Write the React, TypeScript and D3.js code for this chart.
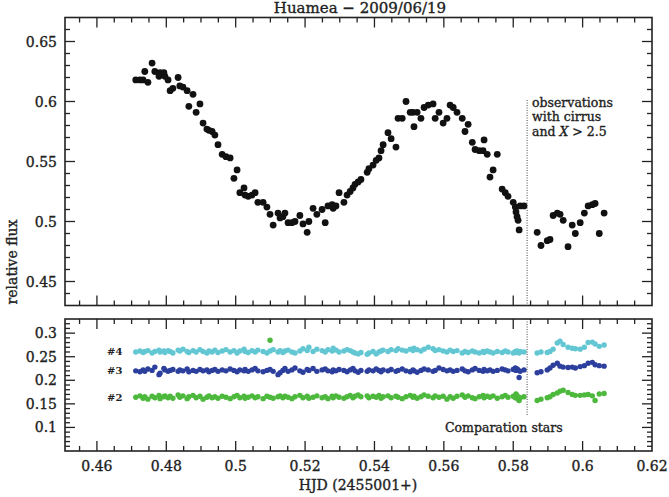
import * as d3 from "d3";
import React from "react";

// Observation times (HJD - 2455001)
const times = [
  0.4712, 0.4724, 0.4733, 0.4738, 0.4747, 0.4759, 0.4767, 0.4779, 0.4782, 0.4793,
  0.4796, 0.4805, 0.4811, 0.4819, 0.4834, 0.4839, 0.4848, 0.486, 0.4865, 0.4877,
  0.4886, 0.4897, 0.4906, 0.4917, 0.4923, 0.4932, 0.494, 0.4949, 0.4961, 0.4972,
  0.4984, 0.4995, 0.5004, 0.5012, 0.5024, 0.5027, 0.5036, 0.5047, 0.5056, 0.5064,
  0.5079, 0.509, 0.5099, 0.5108, 0.5122, 0.5128, 0.5136, 0.5142, 0.5151, 0.5162,
  0.5171, 0.5185, 0.5194, 0.5206, 0.5211, 0.5223, 0.5234, 0.5249, 0.5258, 0.5266,
  0.5278, 0.5281, 0.5289, 0.5298, 0.5312, 0.5321, 0.533, 0.5338, 0.5344, 0.5353,
  0.5361, 0.5379, 0.5384, 0.5396, 0.5405, 0.5413, 0.5419, 0.5425, 0.5439, 0.5448,
  0.5462, 0.5468, 0.548, 0.5491, 0.5503, 0.5511, 0.5514, 0.5523, 0.5534, 0.5543,
  0.5555, 0.5569, 0.5575, 0.5586, 0.5598, 0.5609, 0.5618, 0.5627, 0.5638, 0.5653,
  0.5661, 0.567, 0.5682, 0.569, 0.5702, 0.5713, 0.5716, 0.5725, 0.5733, 0.5742,
  0.5754, 0.5768, 0.5777, 0.5785, 0.58, 0.5806, 0.5808, 0.5811, 0.5814, 0.5817,
  0.582, 0.5831,
  0.5869, 0.588, 0.5898, 0.5906, 0.5915, 0.5927, 0.5935, 0.5944, 0.5958, 0.597,
  0.5979, 0.5993, 0.6005, 0.6016, 0.6028, 0.6036, 0.6048, 0.6062,
];

// Haumea relative flux
const flux = [
  0.618, 0.618, 0.618, 0.625, 0.616, 0.632, 0.625, 0.621, 0.624, 0.624,
  0.621, 0.618, 0.609, 0.611, 0.62, 0.613, 0.612, 0.609, 0.596, 0.606,
  0.591, 0.598, 0.582, 0.577, 0.576, 0.575, 0.572, 0.564, 0.556, 0.554,
  0.553, 0.536, 0.543, 0.524, 0.528, 0.522, 0.521, 0.522, 0.524, 0.516,
  0.516, 0.512, 0.506, 0.497, 0.507, 0.503, 0.504, 0.507, 0.499, 0.499,
  0.5, 0.505, 0.498, 0.491, 0.5, 0.511, 0.506, 0.51, 0.499, 0.513,
  0.514, 0.511, 0.513, 0.524, 0.516, 0.522, 0.525, 0.528, 0.531, 0.533,
  0.535, 0.541, 0.544, 0.547, 0.551, 0.553, 0.559, 0.564, 0.574, 0.569,
  0.562, 0.586, 0.586, 0.6, 0.591, 0.591, 0.579, 0.591, 0.586, 0.595,
  0.597, 0.598, 0.586, 0.591, 0.582, 0.586, 0.597, 0.595, 0.591, 0.586,
  0.575, 0.581, 0.566, 0.56, 0.559, 0.559, 0.568, 0.556, 0.537, 0.543,
  0.556, 0.527, 0.524, 0.521, 0.516, 0.512, 0.508, 0.504, 0.501, 0.493,
  0.513, 0.513,
  0.491, 0.48, 0.484, 0.485, 0.505, 0.507, 0.506, 0.501, 0.479, 0.497,
  0.49, 0.499, 0.507, 0.513, 0.514, 0.515, 0.49, 0.507,
];

// Comparison star #4
const comp4 = [
  0.26, 0.262, 0.259, 0.261, 0.263, 0.258, 0.261, 0.264, 0.26, 0.262, 0.259, 0.263,
  0.261, 0.258, 0.264, 0.262, 0.266, 0.261, 0.259, 0.263, 0.26, 0.265, 0.261, 0.258,
  0.262, 0.26, 0.264, 0.259, 0.262, 0.265, 0.26, 0.263, 0.258, 0.262, 0.266, 0.261,
  0.259, 0.263, 0.26, 0.264, 0.261, 0.258, 0.262, 0.265, 0.26, 0.263, 0.259, 0.262,
  0.264, 0.26, 0.258, 0.262, 0.267, 0.263, 0.27, 0.261, 0.266, 0.263, 0.26, 0.265,
  0.262, 0.268, 0.264, 0.26, 0.262, 0.265, 0.263, 0.26, 0.258, 0.256, 0.259, 0.255,
  0.258, 0.261, 0.256, 0.26, 0.262, 0.264, 0.261, 0.265, 0.263, 0.267, 0.264, 0.262,
  0.266, 0.263, 0.268, 0.265, 0.262, 0.266, 0.27, 0.267, 0.263, 0.265, 0.262, 0.26,
  0.264, 0.261, 0.263, 0.258, 0.261, 0.259, 0.262, 0.26, 0.258, 0.261, 0.259, 0.262,
  0.26, 0.258, 0.261, 0.259, 0.262, 0.26, 0.258, 0.261, 0.259, 0.262, 0.26, 0.258, 0.261, 0.26,
  0.258, 0.26, 0.259, 0.261, 0.266, 0.279, 0.283, 0.276, 0.27, 0.268, 0.267, 0.266,
  0.27, 0.28, 0.281, 0.277, 0.272, 0.275,
];

// Comparison star #3
const comp3 = [
  0.22, 0.218, 0.222, 0.219, 0.224, 0.221, 0.228, 0.212, 0.215, 0.225, 0.222, 0.219,
  0.221, 0.223, 0.219, 0.222, 0.22, 0.224, 0.218, 0.221, 0.219, 0.223, 0.22, 0.222,
  0.218, 0.221, 0.223, 0.219, 0.222, 0.22, 0.224, 0.221, 0.218, 0.222, 0.22, 0.223,
  0.219, 0.222, 0.225, 0.22, 0.218, 0.221, 0.223, 0.219, 0.212, 0.216, 0.221, 0.225,
  0.219, 0.222, 0.226, 0.22, 0.217, 0.223, 0.221, 0.225, 0.219, 0.222, 0.224, 0.22,
  0.218, 0.222, 0.22, 0.223, 0.221, 0.218, 0.222, 0.225, 0.22, 0.217, 0.221, 0.219,
  0.222, 0.22, 0.224, 0.221, 0.218, 0.222, 0.22, 0.223, 0.219, 0.221, 0.224, 0.22,
  0.218, 0.222, 0.22, 0.217, 0.221, 0.224, 0.222, 0.219, 0.221, 0.226, 0.223, 0.22,
  0.222, 0.219, 0.221, 0.224, 0.22, 0.218, 0.222, 0.225, 0.221, 0.219, 0.223, 0.22,
  0.222, 0.219, 0.221, 0.224, 0.222, 0.22, 0.223, 0.226, 0.221, 0.224, 0.222, 0.206, 0.219, 0.222,
  0.216, 0.218, 0.222, 0.226, 0.232, 0.236, 0.23, 0.228, 0.227, 0.228, 0.226, 0.229,
  0.231, 0.236, 0.238, 0.233, 0.231, 0.23,
];

// Comparison star #2
const comp2 = [
  0.164, 0.167, 0.162, 0.165, 0.16, 0.166, 0.163, 0.168, 0.161, 0.165, 0.167, 0.163,
  0.166, 0.162, 0.169, 0.164, 0.167, 0.161, 0.165, 0.168, 0.163, 0.166, 0.16, 0.164,
  0.167, 0.163, 0.165, 0.162, 0.166, 0.164, 0.161, 0.165, 0.168, 0.163, 0.166, 0.162,
  0.164, 0.167, 0.163, 0.165, 0.161, 0.166, 0.164, 0.162, 0.165, 0.167, 0.163, 0.166,
  0.164, 0.161, 0.165, 0.168, 0.163, 0.166, 0.162, 0.164, 0.167, 0.163, 0.165, 0.161,
  0.166, 0.163, 0.167, 0.164, 0.162, 0.165, 0.168, 0.163, 0.166, 0.169, 0.165, 0.167,
  0.163, 0.166, 0.164, 0.168, 0.162, 0.165, 0.167, 0.163, 0.166, 0.164, 0.161, 0.165,
  0.168, 0.164, 0.166, 0.162, 0.165, 0.169, 0.166, 0.163, 0.167, 0.164, 0.166, 0.16,
  0.165, 0.162, 0.166, 0.169, 0.164, 0.167, 0.163, 0.161, 0.165, 0.168, 0.163, 0.166,
  0.164, 0.167, 0.162, 0.165, 0.168, 0.164, 0.166, 0.163, 0.171, 0.168, 0.16, 0.157, 0.163, 0.165,
  0.157, 0.16, 0.163, 0.165, 0.17, 0.173, 0.177, 0.179, 0.174, 0.17, 0.168, 0.168,
  0.169, 0.17, 0.167, 0.157, 0.171, 0.172,
];

const outlierTimes = [0.5099];
const outlierFlux = [0.285];

const xTicks = [0.46, 0.48, 0.5, 0.52, 0.54, 0.56, 0.58, 0.6, 0.62];
const yTopTicks = [0.45, 0.5, 0.55, 0.6, 0.65];
const yBotTicks = [0.1, 0.15, 0.2, 0.25, 0.3];
const cutoffTime = 0.584;
const starLabels = ["#4", "#3", "#2"];
const starLevels = [0.262, 0.22, 0.164];

const FONT = "'DejaVu Serif', 'Liberation Serif', serif";
const INK = "#222";

function fmt(v: number) {
  return String(+v.toFixed(3));
}

export default function App() {
  const X0 = 65, X1 = 652;
  const T0 = 17.5, T1 = 305.5;
  const B0 = 319, B1 = 451;

  const x = d3.scaleLinear().domain([0.4508, 0.62]).range([X0, X1]);
  const yT = d3.scaleLinear().domain([0.43, 0.67]).range([T1, T0]);
  const yB = d3.scaleLinear().domain([0.05, 0.33]).range([B1, B0]);

  const xMinor = d3.range(0.455, 0.6201, 0.005).map((v) => +v.toFixed(3));
  const yTopMinor = d3.range(0.44, 0.6701, 0.01).map((v) => +v.toFixed(3));
  const yBotMinor = d3.range(0.06, 0.3301, 0.01).map((v) => +v.toFixed(3));

  const frameTicks = (
    ys: d3.ScaleLinear<number, number>,
    top: number,
    bot: number,
    yMajor: number[],
    yMinor: number[],
    key: string
  ) => {
    const els: React.ReactNode[] = [];
    xMinor.forEach((v, i) => {
      const major = xTicks.some((t) => Math.abs(t - v) < 1e-6);
      const L = major ? 10 : 5;
      const px = x(v);
      if (px < X0 + 1 || px > X1 - 1) return;
      els.push(<line key={`${key}xb${i}`} x1={px} x2={px} y1={bot} y2={bot - L} />);
      els.push(<line key={`${key}xt${i}`} x1={px} x2={px} y1={top} y2={top + L} />);
    });
    yMinor.forEach((v, i) => {
      const major = yMajor.some((t) => Math.abs(t - v) < 1e-6);
      const L = major ? 10 : 5;
      const py = ys(v);
      if (py < top + 1 || py > bot - 1) return;
      els.push(<line key={`${key}yl${i}`} x1={X0} x2={X0 + L} y1={py} y2={py} />);
      els.push(<line key={`${key}yr${i}`} x1={X1} x2={X1 - L} y1={py} y2={py} />);
    });
    return (
      <g stroke={INK} strokeWidth={1.3}>
        {els}
        <rect x={X0} y={top} width={X1 - X0} height={bot - top} fill="none" strokeWidth={1.6} />
      </g>
    );
  };

  const series = [
    { vals: comp4, color: "#62c7d3" },
    { vals: comp3, color: "#2c3f9d" },
    { vals: comp2, color: "#4cb83c" },
  ];

  const txt = { fill: INK, stroke: INK, strokeWidth: 0.35 };

  return (
    <svg
      width={669}
      height={497}
      style={{ position: "absolute", left: 0, top: 0, background: "#fff" }}
      fontFamily={FONT}
    >
      <rect width={669} height={497} fill="#fff" />
      <text x={360} y={13} textAnchor="middle" fontSize={15} {...txt}>
        Huamea − 2009/06/19
      </text>

      {/* top panel */}
      {frameTicks(yT, T0, T1, yTopTicks, yTopMinor, "t")}
      {yTopTicks.map((v) => (
        <text key={`ylt${v}`} x={57} y={yT(v) + 5} textAnchor="end" fontSize={14} {...txt}>
          {fmt(v)}
        </text>
      ))}
      <g fill="#111">
        {times.map((t, i) => (
          <circle key={`f${i}`} cx={x(t)} cy={yT(flux[i])} r={3.4} />
        ))}
      </g>
      <line
        x1={x(cutoffTime)}
        x2={x(cutoffTime)}
        y1={100}
        y2={T1}
        stroke="#444"
        strokeWidth={1}
        strokeDasharray="1,1.5"
      />
      <g fontSize={12.5} {...txt}>
        <text x={532} y={107}>observations</text>
        <text x={532} y={121}>with cirrus</text>
        <text x={532} y={136}>
          and <tspan fontStyle="italic">X</tspan> &gt; 2.5
        </text>
      </g>

      {/* bottom panel */}
      {frameTicks(yB, B0, B1, yBotTicks, yBotMinor, "b")}
      {yBotTicks.map((v) => (
        <text key={`ylb${v}`} x={57} y={yB(v) + 5} textAnchor="end" fontSize={14} {...txt}>
          {fmt(v)}
        </text>
      ))}
      {series.map((s, si) => (
        <g key={`s${si}`} fill={s.color}>
          {times.map((t, i) => (
            <circle key={`c${si}-${i}`} cx={x(t)} cy={yB(s.vals[i])} r={2.7} />
          ))}
        </g>
      ))}
      <g fill="#4cb83c">
        {outlierTimes.map((t, i) => (
          <circle key={`o${i}`} cx={x(t)} cy={yB(outlierFlux[i])} r={2.7} />
        ))}
      </g>
      {starLabels.map((l, i) => (
        <text key={l} x={107} y={yB(starLevels[i]) + 3.5} fontSize={10} fontWeight="bold" fill={INK}>
          {l}
        </text>
      ))}
      <line
        x1={x(cutoffTime)}
        x2={x(cutoffTime)}
        y1={B0}
        y2={415}
        stroke="#444"
        strokeWidth={1}
        strokeDasharray="1,1.5"
      />
      <text x={445} y={432} fontSize={12.5} {...txt}>
        Comparation stars
      </text>

      {xTicks.map((v) => (
        <text key={`xl${v}`} x={x(v)} y={471} textAnchor="middle" fontSize={14} {...txt}>
          {fmt(v)}
        </text>
      ))}
      <text x={358} y={490} textAnchor="middle" fontSize={14} {...txt}>
        HJD (2455001+)
      </text>
      <text
        transform={`translate(17, 262) rotate(-90)`}
        textAnchor="middle"
        fontSize={14}
        {...txt}
      >
        relative flux
      </text>
    </svg>
  );
}
